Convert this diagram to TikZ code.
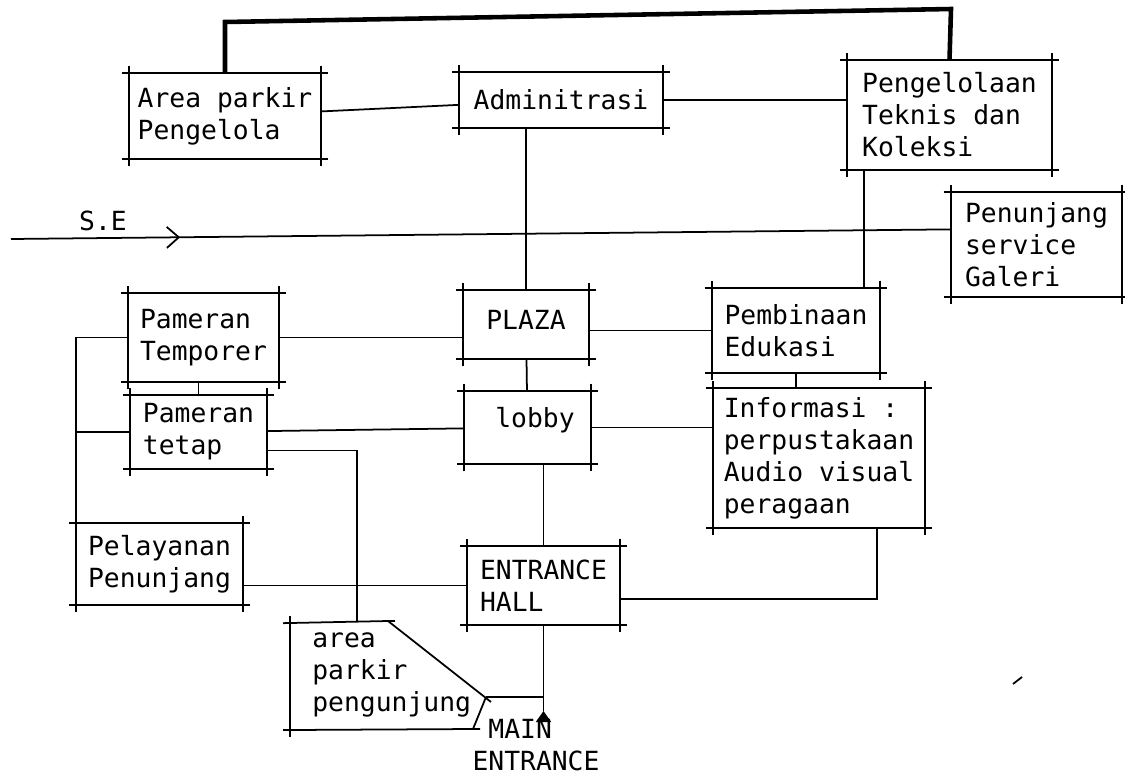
\documentclass[tikz,border=0pt]{standalone}
\usepackage{fontspec}
\setmonofont{DejaVu Sans Mono}
\usetikzlibrary{arrows.meta, calc, decorations.markings}

\begin{document}
\begin{tikzpicture}[
  x=0.02cm, y=-0.02cm,
  box/.style 2 args={minimum width=#1, minimum height=#2, align=left, inner sep=0pt,
    font=\ttfamily\fontsize{15pt}{18.2pt}\selectfont},
  txt/.style={font=\ttfamily\fontsize{15pt}{18.2pt}\selectfont, align=left, inner sep=0pt},
  side/.style={line width=1pt, shorten <=-0.14cm, shorten >=-0.14cm},
  link/.style={line width=1pt},
  bus/.style={line width=2.6pt, line join=miter},
  flow/.style={postaction={decorate}, decoration={markings,
    mark=at position 0.18 with {\arrow{Straight Barb[length=0.24cm, width=0.42cm]}}}},
]
  \useasboundingbox (0,0) rectangle (1125,778);

  % upper row
  \node[box={3.84cm}{1.72cm}] (parkA) at (225,116) {Area parkir\\Pengelola};
  \node[box={4.06cm}{1.12cm}] (admin) at (561,100) {Adminitrasi};
  \node[box={4.10cm}{2.20cm}] (pengel) at (949.5,115) {Pengelolaan\\Teknis dan\\Koleksi};
  \node[box={3.42cm}{2.10cm}] (galeri) at (1036.5,244.5) {Penunjang\\service\\Galeri};

  % middle rows
  \node[box={3.02cm}{1.78cm}] (temp) at (203.5,337.5) {Pameran\\Temporer};
  \node[box={2.74cm}{1.48cm}] (tetap) at (198.5,432) {Pameran\\tetap};
  \node[box={2.52cm}{1.38cm}, text depth=0.2cm] (plaza) at (526,324.5) {PLAZA};
  \node[box={2.54cm}{1.46cm}, text depth=0.4cm] (lobby) at (527.5,427.5) {\hspace*{0.3cm}lobby};
  \node[box={3.36cm}{1.70cm}] (pemb) at (796,330.5) {Pembinaan\\Edukasi};
  \node[box={4.24cm}{2.80cm}] (info) at (819,458) {Informasi :\\perpustakaan\\Audio visual\\peragaan};

  % lower row
  \node[box={3.34cm}{1.64cm}] (pelay) at (159.5,564) {Pelayanan\\Penunjang};
  \node[box={3.06cm}{1.58cm}] (hall) at (543.5,585.5) {ENTRANCE\\HALL};

  % box outlines with overshooting corners
  \foreach \n in {parkA,admin,pengel,galeri,temp,tetap,plaza,lobby,pemb,info,pelay,hall}{
    \draw[side] (\n.north west) -- (\n.north east);
    \draw[side] (\n.north east) -- (\n.south east);
    \draw[side] (\n.south east) -- (\n.south west);
    \draw[side] (\n.south west) -- (\n.north west);
  }

  % visitor parking, cut corner
  \coordinate (pBnw) at (290,623);
  \coordinate (pBtop) at (357,622);
  \coordinate (pBne) at (388,621);
  \coordinate (pBe) at (491,702);
  \coordinate (pBc) at (486,697);
  \coordinate (pBse) at (473,729);
  \coordinate (pBsw) at (290,730);
  \draw[side] (pBsw) -- (pBnw);
  \draw[side] (pBnw) -- (pBne);
  \draw[link] (pBne) -- (pBe);
  \draw[link] (pBc) -- (pBse);
  \draw[side] (pBse) -- (pBsw);
  \node[txt, anchor=west] (parkB) at (312,675) {area\\parkir\\pengunjung};

  % S.E line
  \coordinate (seL) at (11,239);
  \node[txt] (seLbl) at (103,221) {S.E};
  \draw[link, flow] (seL) -- (galeri.170);

  % main entrance
  \coordinate (mtip) at (543.5,711);
  \node[txt] (main) at (536,745) {\phantom{E}MAIN\\ENTRANCE};

  % connections
  \draw[bus] (parkA.north) -- (225,22) -- (951,9) -- (pengel.north);
  \draw[link] (parkA) -- (admin);
  \draw[link] (admin.east) -- (admin.east -| pengel.west);
  \draw[link] (plaza.north) -- (plaza.north |- admin.south);
  \draw[link] ([xshift=-0.32cm]pemb.north east) -- ([xshift=-0.32cm]pemb.north east |- pengel.south);
  \draw[link] (temp.east) -- (temp.east -| plaza.west);
  \draw[link] (tetap.north) -- (tetap.north |- temp.south);
  \draw[link] (temp.west) -| (pelay.north west);
  \draw[link] (tetap.west) -- (tetap.west -| pelay.north west);
  \draw[link] (plaza) -- (lobby);
  \draw[link] (pemb.west) -- (pemb.west -| plaza.east);
  \draw[link] (tetap) -- (lobby);
  \draw[link] (tetap.345) -| (pBtop);
  \draw[link] (hall.north) -- (hall.north |- lobby.south);
  \draw[link] (lobby.east) -- (lobby.east -| info.west);
  \draw[link] (pemb.south) -- (pemb.south |- info.north);
  \draw[link] (hall.west) -- (hall.west -| pelay.east);
  \draw[link] ([xshift=-0.96cm]info.south east) |- (hall.350);
  \draw[link] (hall.south) -- (mtip);
  \draw[link] (pBc -| mtip) -- (pBc);
  \draw[link, -{Triangle[length=0.22cm, width=0.3cm]}] (main.north -| mtip) -- (mtip);

  % stray pen mark
  \draw[link] (1013,684) -- (1022,677);
\end{tikzpicture}
\end{document}
